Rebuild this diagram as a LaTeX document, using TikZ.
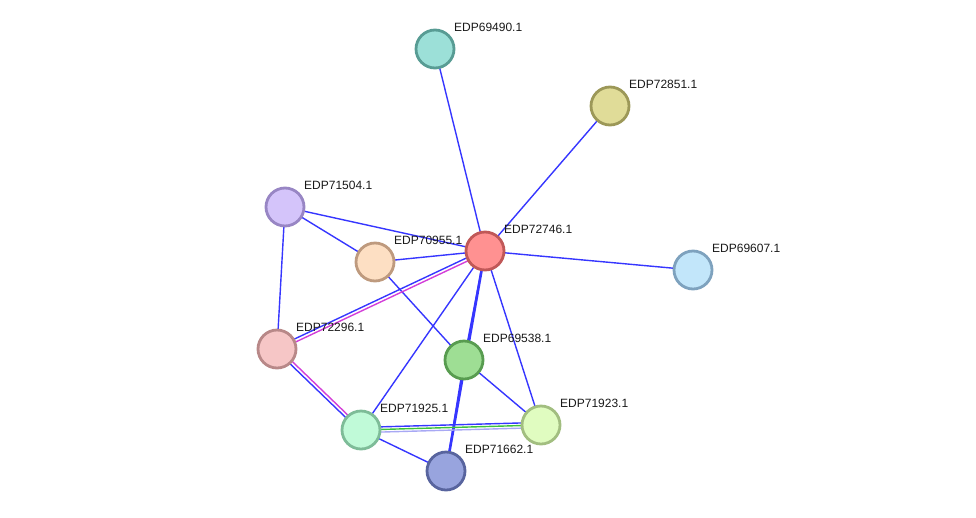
\documentclass[tikz,border=0pt]{standalone}
\usepackage{fontspec}
\setmainfont{Liberation Sans}
\usetikzlibrary{calc}
\definecolor{linkblue}{HTML}{3636FF}
\definecolor{linkpink}{HTML}{D33ED8}
\definecolor{linkgreen}{HTML}{3CC23C}
\definecolor{linklight}{HTML}{A8A8F4}
\tikzstyle{prot} = [draw, circle, minimum size=38pt, inner sep=0pt, line width=2.8pt]
\tikzstyle{lbl} = [anchor=west, inner sep=0pt, font=\fontsize{12}{14}\selectfont, text=black!90]
\tikzstyle{link} = [draw=linkblue, line width=1.4pt]
\pgfdeclarelayer{background}
\pgfsetlayers{background,main}

\begin{document}
\begin{tikzpicture}[x=1pt, y=-1pt]
      \useasboundingbox (0,0) rectangle (976,517);
      % proteins
      \node[prot, fill={rgb,255:red,156;green,224;blue,216}, draw={rgb,255:red,88;green,156;blue,148}] (p69490) at (435,49) {};
      \node[prot, fill={rgb,255:red,224;green,220;blue,152}, draw={rgb,255:red,156;green,152;blue,88}] (p72851) at (610,106) {};
      \node[prot, fill={rgb,255:red,212;green,196;blue,250}, draw={rgb,255:red,152;green,134;blue,196}] (p71504) at (285,207) {};
      \node[prot, fill={rgb,255:red,253;green,223;blue,195}, draw={rgb,255:red,190;green,154;blue,126}] (p70955) at (375,262) {};
      \node[prot, fill={rgb,255:red,255;green,145;blue,145}, draw={rgb,255:red,192;green,88;blue,88}] (p72746) at (485,251) {};
      \node[prot, fill={rgb,255:red,194;green,230;blue,250}, draw={rgb,255:red,126;green,162;blue,190}] (p69607) at (693,270) {};
      \node[prot, fill={rgb,255:red,246;green,198;blue,198}, draw={rgb,255:red,184;green,136;blue,136}] (p72296) at (277,349) {};
      \node[prot, fill={rgb,255:red,158;green,222;blue,148}, draw={rgb,255:red,88;green,156;blue,80}] (p69538) at (464,360) {};
      \node[prot, fill={rgb,255:red,224;green,252;blue,192}, draw={rgb,255:red,162;green,190;blue,128}] (p71923) at (541,425) {};
      \node[prot, fill={rgb,255:red,192;green,250;blue,216}, draw={rgb,255:red,126;green,188;blue,152}] (p71925) at (361,430) {};
      \node[prot, fill={rgb,255:red,152;green,164;blue,222}, draw={rgb,255:red,88;green,100;blue,158}] (p71662) at (446,471) {};
      % labels
      \node[lbl] (l69490) at ([shift={(19,-22)}]p69490.center) {EDP69490.1};
      \node[lbl] (l72851) at ([shift={(19,-22)}]p72851.center) {EDP72851.1};
      \node[lbl] (l71504) at ([shift={(19,-22)}]p71504.center) {EDP71504.1};
      \node[lbl] (l70955) at ([shift={(19,-22)}]p70955.center) {EDP70955.1};
      \node[lbl] (l72746) at ([shift={(19,-22)}]p72746.center) {EDP72746.1};
      \node[lbl] (l69607) at ([shift={(19,-22)}]p69607.center) {EDP69607.1};
      \node[lbl] (l72296) at ([shift={(19,-22)}]p72296.center) {EDP72296.1};
      \node[lbl] (l69538) at ([shift={(19,-22)}]p69538.center) {EDP69538.1};
      \node[lbl] (l71923) at ([shift={(19,-22)}]p71923.center) {EDP71923.1};
      \node[lbl] (l71925) at ([shift={(19,-22)}]p71925.center) {EDP71925.1};
      \node[lbl] (l71662) at ([shift={(19,-22)}]p71662.center) {EDP71662.1};
      \begin{pgfonlayer}{background}
        \foreach \a/\b in {72746/69490, 72746/72851, 72746/71504, 72746/70955, 72746/69607,
                           72746/71925, 72746/69538, 72746/71923, 71504/70955, 71504/72296,
                           70955/69538, 69538/71923, 69538/71662, 71925/71662}
          \draw[link] (p\a.center) -- (p\b.center);
        \draw[link, line width=2.6pt] (p72746.center) -- (p71662.center);
        % double and triple links
        \draw[link] ($(p72746.center)!1.6pt!-90:(p72296.center)$) -- ($(p72296.center)!1.6pt!90:(p72746.center)$);
        \draw[link, draw=linkpink] ($(p72746.center)!1.6pt!90:(p72296.center)$) -- ($(p72296.center)!1.6pt!-90:(p72746.center)$);
        \draw[link] ($(p72296.center)!1.6pt!-90:(p71925.center)$) -- ($(p71925.center)!1.6pt!90:(p72296.center)$);
        \draw[link, draw=linkpink] ($(p72296.center)!1.6pt!90:(p71925.center)$) -- ($(p71925.center)!1.6pt!-90:(p72296.center)$);
        \draw[link] ($(p71925.center)!2.6pt!90:(p71923.center)$) -- ($(p71923.center)!2.6pt!-90:(p71925.center)$);
        \draw[link, draw=linkgreen] (p71925.center) -- (p71923.center);
        \draw[link, draw=linklight] ($(p71925.center)!2.6pt!-90:(p71923.center)$) -- ($(p71923.center)!2.6pt!90:(p71925.center)$);
      \end{pgfonlayer}
\end{tikzpicture}
\end{document}
